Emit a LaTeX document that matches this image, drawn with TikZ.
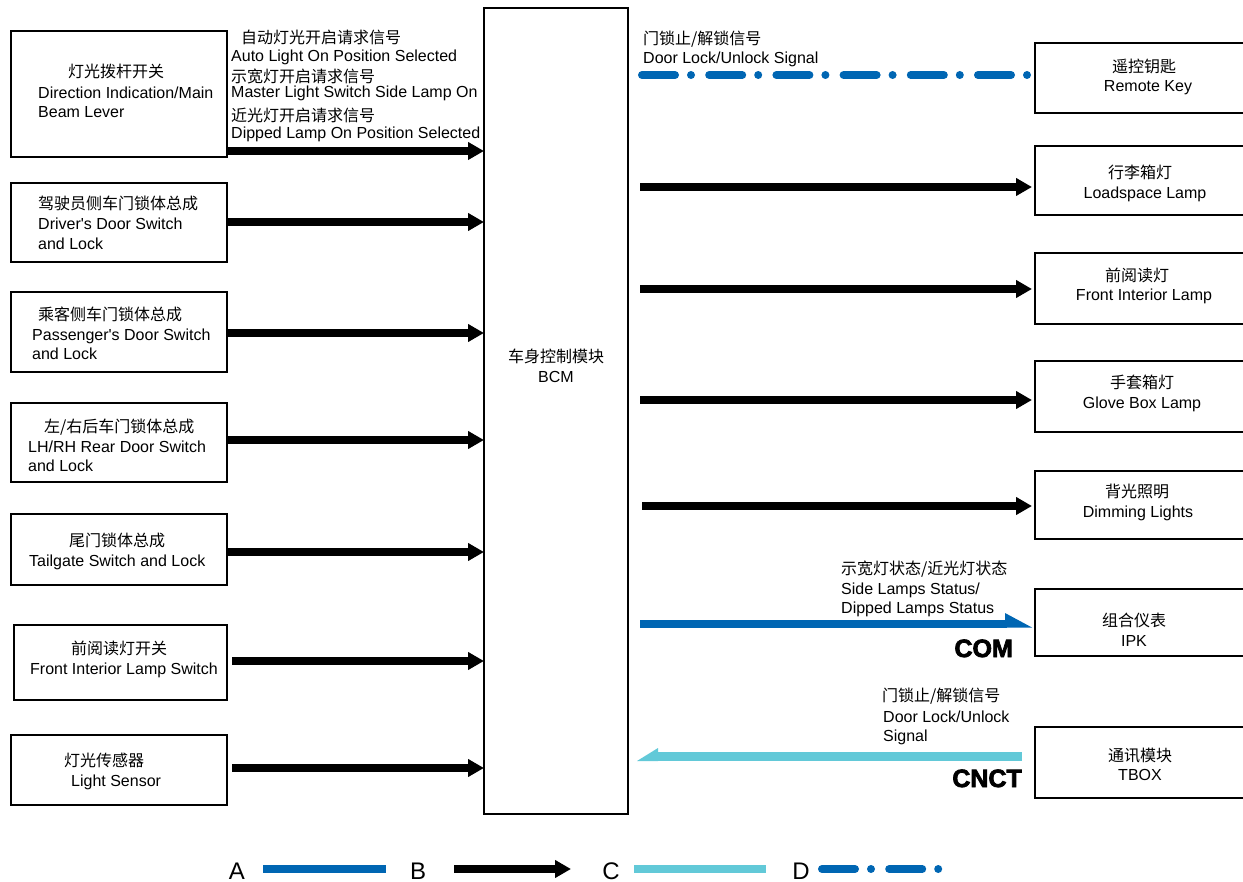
\documentclass[tikz,border=0pt]{standalone}
\usepackage{fontspec}
\setmainfont{Liberation Sans}
\newfontfamily\cjk{Noto Sans CJK SC}
\newfontfamily\heavyfont{Liberation Sans Bold}[FakeBold=3]
\usetikzlibrary{arrows.meta}
\definecolor{ablue}{RGB}{0,102,179}
\definecolor{ccyan}{RGB}{98,201,216}
\begin{document}
\begin{tikzpicture}[x=1pt,y=-1pt,
  box/.style={draw=black, line width=1.6pt, inner sep=0pt, outer sep=0pt, anchor=north west},
  txt/.style={inner sep=0pt, anchor=base west, font=\fontsize{16}{19}\selectfont},
  ctxt/.style={inner sep=0pt, anchor=base, font=\fontsize{16}{19}\selectfont},
  zh/.style={inner sep=0pt, anchor=base west, font=\fontsize{16}{19}\selectfont\cjk},
  czh/.style={inner sep=0pt, anchor=base, font=\fontsize{16}{19}\selectfont\cjk},
  bigtag/.style={inner sep=0pt, anchor=base east, font=\fontsize{25}{30}\selectfont\heavyfont},
  legtag/.style={inner sep=0pt, anchor=base, font=\fontsize{24}{28}\selectfont},
  blk/.style={line width=8pt, -{Triangle[length=16pt,width=17pt]}},
  dashdot/.style={draw=ablue, line width=8pt, line cap=round, dash pattern=on 33pt off 16pt on 0pt off 18.2pt}
]
\useasboundingbox (0,0) rectangle (1243,882);

% left boxes
\node[box, minimum width=216pt, minimum height=126pt] (b1) at (11,31) {};
\node[box, minimum width=216pt, minimum height=79pt] (b2) at (11,183) {};
\node[box, minimum width=216pt, minimum height=80pt] (b3) at (11,292) {};
\node[box, minimum width=216pt, minimum height=79pt] (b4) at (11,403) {};
\node[box, minimum width=216pt, minimum height=71pt] (b5) at (11,514) {};
\node[box, minimum width=213pt, minimum height=75pt] (b6) at (14,625) {};
\node[box, minimum width=216pt, minimum height=70pt] (b7) at (11,735) {};
% BCM
\node[box, minimum width=144pt, minimum height=806pt] (bcm) at (484,8) {};
% right boxes
\node[box, minimum width=212pt, minimum height=70pt] (rk) at (1035,43) {};
\node[box, minimum width=212pt, minimum height=69pt] (ls) at (1035,146) {};
\node[box, minimum width=212pt, minimum height=71pt] (fil) at (1035,253) {};
\node[box, minimum width=212pt, minimum height=71pt] (gb) at (1035,361) {};
\node[box, minimum width=212pt, minimum height=68pt] (dl) at (1035,471) {};
\node[box, minimum width=212pt, minimum height=67pt] (ipk) at (1035,589) {};
\node[box, minimum width=212pt, minimum height=71pt] (tbox) at (1035,727) {};

% left box texts
\node[zh] (t1a) at (68,77.5) {灯光拨杆开关};
\node[txt] (t1b) at (38,99) {Direction Indication/Main};
\node[txt] (t1c) at (38,117.5) {Beam Lever};
\node[zh] (t2a) at (38,210) {驾驶员侧车门锁体总成};
\node[txt] (t2b) at (38,230) {Driver\textquotesingle s Door Switch};
\node[txt] (t2c) at (38,250) {and Lock};
\node[zh] (t3a) at (38,321) {乘客侧车门锁体总成};
\node[txt] (t3b) at (32,341) {Passenger\textquotesingle s Door Switch};
\node[txt] (t3c) at (32,360) {and Lock};
\node[zh] (t4a) at (44,433) {左/右后车门锁体总成};
\node[txt] (t4b) at (28,453) {LH/RH Rear Door Switch};
\node[txt] (t4c) at (28,472) {and Lock};
\node[zh] (t5a) at (69,546) {尾门锁体总成};
\node[txt] (t5b) at (29,566) {Tailgate Switch and Lock};
\node[zh] (t6a) at (71,654) {前阅读灯开关};
\node[txt] (t6b) at (30,674) {Front Interior Lamp Switch};
\node[zh] (t7a) at (64,766) {灯光传感器};
\node[txt] (t7b) at (71,786) {Light Sensor};

% BCM text
\node[czh] (tbcma) at (556,363) {车身控制模块};
\node[ctxt] (tbcmb) at (556,383) {BCM};

% right box texts
\node[czh] (trka) at (1144,73) {遥控钥匙};
\node[ctxt] (trkb) at (1148,92) {Remote Key};
\node[czh] (tlsa) at (1140,179) {行李箱灯};
\node[ctxt] (tlsb) at (1145,199) {Loadspace Lamp};
\node[czh] (tfila) at (1137,282) {前阅读灯};
\node[ctxt] (tfilb) at (1144,301) {Front Interior Lamp};
\node[czh] (tgba) at (1142,389) {手套箱灯};
\node[ctxt] (tgbb) at (1142,409) {Glove Box Lamp};
\node[czh] (tdla) at (1137,498) {背光照明};
\node[ctxt] (tdlb) at (1138,518) {Dimming Lights};
\node[czh] (tipka) at (1134,626) {组合仪表};
\node[ctxt] (tipkb) at (1134,646) {IPK};
\node[czh] (ttba) at (1140,761) {通讯模块};
\node[ctxt] (ttbb) at (1140,780) {TBOX};

% signal labels
\node[zh] (s1) at (241,44) {自动灯光开启请求信号};
\node[txt] (s2) at (231,62) {Auto Light On Position Selected};
\node[zh] (s3) at (231,83) {示宽灯开启请求信号};
\node[txt] (s4) at (231,98) {Master Light Switch Side Lamp On};
\node[zh] (s5) at (231,122) {近光灯开启请求信号};
\node[txt] (s6) at (231,139) {Dipped Lamp On Position Selected};
\node[zh] (r1) at (643,45) {门锁止/解锁信号};
\node[txt] (r2) at (643,64) {Door Lock/Unlock Signal};
\node[zh] (p1) at (841,574) {示宽灯状态/近光灯状态};
\node[txt] (p2) at (841,594) {Side Lamps Status/};
\node[txt] (p3) at (841,613) {Dipped Lamps Status};
\node[zh] (q1) at (882,701) {门锁止/解锁信号};
\node[txt] (q2) at (883,722) {Door Lock/Unlock};
\node[txt] (q3) at (883,741) {Signal};
\node[bigtag] (com) at (1013,657) {COM};
\node[bigtag] (cnct) at (1022,787) {CNCT};

% left arrows into BCM
\draw[blk] (b1.east |- 0,151) -- (bcm.west |- 0,151);
\draw[blk] (b2.east |- 0,222) -- (bcm.west |- 0,222);
\draw[blk] (b3.east |- 0,333) -- (bcm.west |- 0,333);
\draw[blk] (b4.east |- 0,440) -- (bcm.west |- 0,440);
\draw[blk] (b5.east |- 0,552) -- (bcm.west |- 0,552);
\draw[blk] ([xshift=5pt]b6.east |- 0,661) -- (bcm.west |- 0,661);
\draw[blk] ([xshift=5pt]b7.east |- 0,768) -- (bcm.west |- 0,768);

% right arrows
\draw[dashdot] ([xshift=14pt]bcm.east |- 0,75) -- ([xshift=-7pt]rk.west |- 0,75);
\draw[blk] ([xshift=12pt]bcm.east |- 0,187) -- ([xshift=-3pt]ls.west |- 0,187);
\draw[blk] ([xshift=12pt]bcm.east |- 0,289) -- ([xshift=-3pt]fil.west |- 0,289);
\draw[blk] ([xshift=12pt]bcm.east |- 0,400) -- ([xshift=-3pt]gb.west |- 0,400);
\draw[blk] ([xshift=14pt]bcm.east |- 0,506) -- ([xshift=-3pt]dl.west |- 0,506);

% COM (blue) arrow to IPK
\draw[ablue, line width=8pt] ([xshift=12pt]bcm.east |- 0,623.5) -- ([xshift=-28pt]ipk.west |- 0,623.5);
\fill[ablue] ([xshift=-30pt]ipk.west |- 0,613) -- ([xshift=-3pt]ipk.west |- 0,627.5) -- ([xshift=-30pt]ipk.west |- 0,627.5) -- cycle;

% CNCT (cyan) arrow from TBOX
\draw[ccyan, line width=8.5pt] ([xshift=-13pt]tbox.west |- 0,756.7) -- ([xshift=28pt]bcm.east |- 0,756.7);
\fill[ccyan] ([xshift=9pt]bcm.east |- 0,761) -- ([xshift=30pt]bcm.east |- 0,748) -- ([xshift=30pt]bcm.east |- 0,761) -- cycle;

% legend
\node[legtag] (la) at (237,879) {A};
\node[legtag] (lb) at (418,879) {B};
\node[legtag] (lc) at (611,879) {C};
\node[legtag] (ld) at (801,879) {D};
\coordinate (a1) at (263,869); \coordinate (a2) at (386,869);
\coordinate (bb1) at (454,869); \coordinate (bb2) at (571,869);
\coordinate (c1) at (634,869); \coordinate (c2) at (766,869);
\coordinate (d1) at (822,869); \coordinate (d2) at (939,869);
\draw[ablue, line width=8pt] (a1) -- (a2);
\draw[blk] (bb1) -- (bb2);
\draw[ccyan, line width=8pt] (c1) -- (c2);
\draw[dashdot] (d1) -- (d2);
\end{tikzpicture}
\end{document}
